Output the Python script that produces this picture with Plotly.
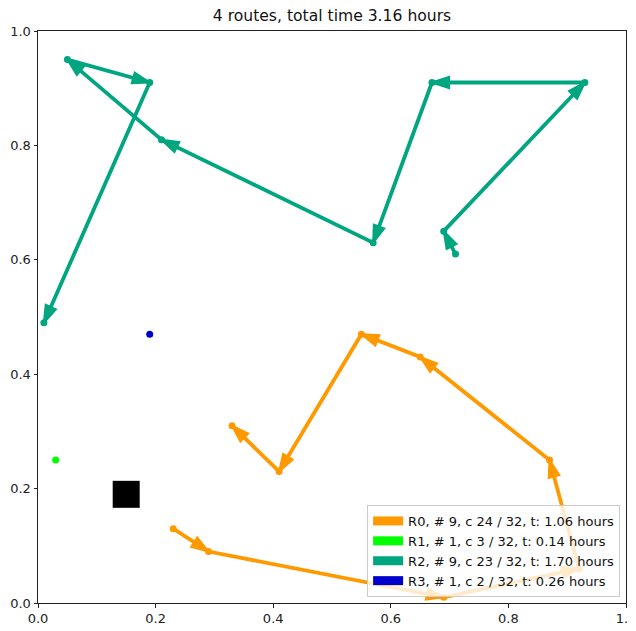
import plotly.graph_objects as go

# ---- data ----
depot_x = [0.15]
depot_y = [0.19]

r0_x = [0.23, 0.29, 0.69, 0.92, 0.87, 0.65, 0.55, 0.41, 0.33]
r0_y = [0.13, 0.09, 0.01, 0.06, 0.25, 0.43, 0.47, 0.23, 0.31]
r1_x = [0.03]
r1_y = [0.25]
r2_x = [0.71, 0.69, 0.93, 0.67, 0.57, 0.21, 0.05, 0.19, 0.01]
r2_y = [0.61, 0.65, 0.91, 0.91, 0.63, 0.81, 0.95, 0.91, 0.49]
r3_x = [0.19]
r3_y = [0.47]

route_labels = [
    "R0, # 9, c 24 / 32, t: 1.06 hours",
    "R1, # 1, c 3 / 32, t: 0.14 hours",
    "R2, # 9, c 23 / 32, t: 1.70 hours",
    "R3, # 1, c 2 / 32, t: 0.26 hours",
]
route_colors = ["#ff9900", "#00ff00", "#00a680", "#0000cc"]
title_text = "4 routes, total time 3.16 hours"
tick_vals = [0.0, 0.2, 0.4, 0.6, 0.8, 1.0]
tick_text = ["0.0", "0.2", "0.4", "0.6", "0.8", "1.0"]

routes = [(r0_x, r0_y), (r1_x, r1_y), (r2_x, r2_y), (r3_x, r3_y)]

fig = go.Figure()

# depot
fig.add_trace(go.Scatter(x=depot_x, y=depot_y, mode="markers",
                         marker=dict(symbol="square", size=27, color="black"),
                         showlegend=False, hoverinfo="skip"))

for (xs, ys), col, lab in zip(routes, route_colors, route_labels):
    fig.add_trace(go.Scatter(x=xs, y=ys, mode="lines+markers",
                             line=dict(color=col, width=3.8),
                             marker=dict(color=col, size=7),
                             showlegend=False, hoverinfo="skip"))
    if len(xs) > 1:
        sizes = [0] + [18] * (len(xs) - 1)
        fig.add_trace(go.Scatter(x=xs, y=ys, mode="markers",
                                 marker=dict(symbol="arrow", size=sizes,
                                             color=col, opacity=1,
                                             angleref="previous",
                                             line=dict(width=2, color=col)),
                                 showlegend=False, hoverinfo="skip"))
    # legend swatch
    fig.add_trace(go.Scatter(x=[None], y=[None], mode="lines",
                             line=dict(color=col, width=9),
                             name=lab, showlegend=True))

# page body has an 8px margin, so the figure is offset by 8px
FIG_W, FIG_H = 628, 623
fig.update_layout(
    width=FIG_W, height=FIG_H, autosize=False,
    margin=dict(l=30.4, r=9.6, t=22.7, b=28.3),
    paper_bgcolor="white", plot_bgcolor="white",
    font=dict(family="DejaVu Sans", size=13, color="#222"),
    title=dict(text=title_text, x=0.5, xref="paper", y=1 - 7.5 / FIG_H,
               yref="container", xanchor="center", yanchor="middle",
               font=dict(size=15.6, color="#111")),
    legend=dict(x=0.990, y=0.0105, xanchor="right", yanchor="bottom",
                bgcolor="rgba(255,255,255,0.8)", bordercolor="#cccccc",
                borderwidth=1, font=dict(size=13, color="#111"), itemwidth=30,
                tracegroupgap=0),
)
axis_common = dict(range=[0, 1], showgrid=False, zeroline=False,
                   showline=True, linecolor="#222", linewidth=1, mirror=True,
                   ticks="outside", ticklen=3.5, tickcolor="#222",
                   tickvals=tick_vals, ticktext=tick_text, automargin=False,
                   ticklabeloverflow="allow",
                   tickfont=dict(size=13, color="#222"))
fig.update_xaxes(**axis_common)
fig.update_yaxes(**axis_common)

fig.write_html("out.html")
